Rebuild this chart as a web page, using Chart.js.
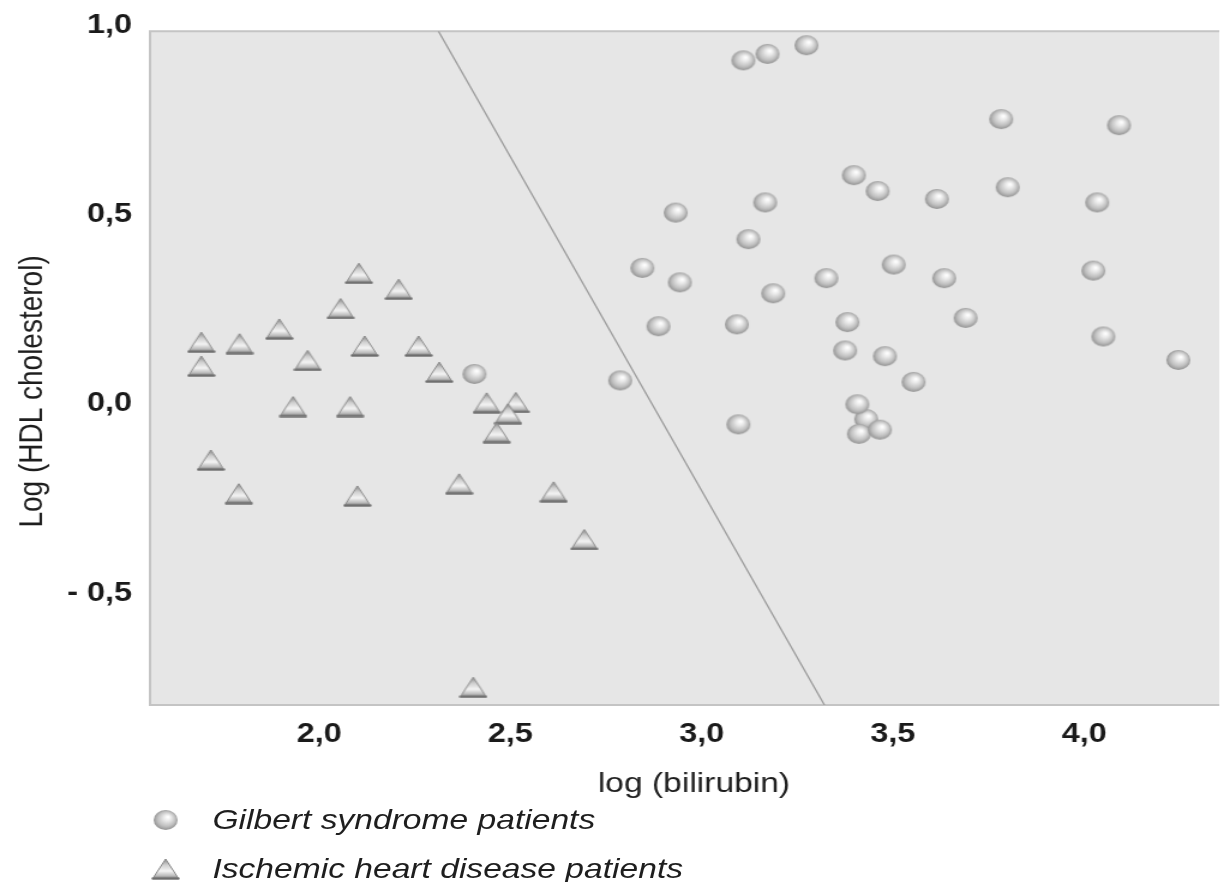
<!DOCTYPE html>
<html>
<head>
<meta charset="utf-8">
<script src="https://cdn.jsdelivr.net/npm/chart.js@4.4.0/dist/chart.umd.min.js"></script>
<style>
  html, body { margin: 0; padding: 0; background: #fff; overflow: hidden; }
  /* the original figure is stretched sideways, so the whole chart is too */
  #wrap { position: relative; width: 1021px; height: 882px; transform: scaleX(1.2); transform-origin: 0 0; }
  #legend { position: absolute; left: 0; top: 0; width: 100%; height: 100%; pointer-events: none;
            font: italic 28px "Liberation Sans", Arial, sans-serif; color: #1e1e1e; }
  .lg-mark { position: absolute; }
  .lg-text { position: absolute; left: 177px; height: 40px; line-height: 40px; white-space: nowrap; }
</style>
</head>
<body>
<div id="wrap">
  <canvas id="chart_scatter"></canvas>
  <div id="legend"></div>
</div>
<script>
// Gilbert syndrome patients
const gilbertX = [3.109, 3.172, 3.274, 3.398, 3.460, 3.166, 2.932, 3.122, 2.845, 2.943, 3.326, 3.187,
                  3.502, 3.783, 4.091, 3.615, 3.800, 4.034, 3.634, 4.024, 3.381, 3.690, 3.375, 3.479,
                  4.050, 4.246, 3.554, 3.430, 3.407, 3.411, 3.466, 2.887, 3.092, 2.787, 3.096, 2.406];
const gilbertY = [0.907, 0.924, 0.947, 0.604, 0.562, 0.532, 0.505, 0.435, 0.359, 0.321, 0.332, 0.292,
                  0.368, 0.752, 0.736, 0.541, 0.572, 0.532, 0.332, 0.352, 0.216, 0.227, 0.141, 0.126,
                  0.178, 0.116, 0.058, -0.040, -0.001, -0.079, -0.068, 0.205, 0.210, 0.062, -0.054, 0.079];

// Ischemic heart disease patients
const ischemicX = [1.692, 1.692, 1.792, 1.896, 1.970, 2.056, 2.104, 2.208, 2.119, 2.260, 2.314, 1.932,
                   2.081, 2.438, 2.514, 2.494, 2.464, 1.717, 1.790, 2.100, 2.366, 2.613, 2.693, 2.403];
const ischemicY = [0.163, 0.100, 0.159, 0.198, 0.115, 0.252, 0.345, 0.303, 0.153, 0.153, 0.084, -0.007,
                   -0.007, 0.003, 0.004, -0.026, -0.076, -0.148, -0.237, -0.243, -0.211, -0.232, -0.358, -0.748];

// separating line
const lineX = [2.312, 3.321];
const lineY = [0.984, -0.795];

const xTicks = [2.0, 2.5, 3.0, 3.5, 4.0];
const yTicks = [-0.5, 0.0, 0.5, 1.0];

function pairs(xs, ys) {
  return xs.map(function (x, i) { return { x: x, y: ys[i] }; });
}

function fmtTick(v) {
  const s = Math.abs(v).toFixed(1).replace('.', ',');
  return v < 0 ? '- ' + s : s;
}

// shaded ball marker
function makeSphere() {
  const c = document.createElement('canvas');
  c.width = 22; c.height = 22;
  const g = c.getContext('2d');
  const grad = g.createRadialGradient(13, 8, 0.5, 11, 11, 11);
  grad.addColorStop(0, '#ffffff');
  grad.addColorStop(0.25, '#eaeaea');
  grad.addColorStop(0.65, '#c0c0c0');
  grad.addColorStop(1, '#878787');
  g.fillStyle = grad;
  g.beginPath();
  g.arc(11, 11, 10, 0, Math.PI * 2);
  g.fill();
  return c;
}

// shaded triangle marker
function makeTriangle() {
  const c = document.createElement('canvas');
  c.width = 24; c.height = 22;
  const g = c.getContext('2d');
  const grad = g.createLinearGradient(0, 1, 0, 21);
  grad.addColorStop(0, '#8a8a8a');
  grad.addColorStop(0.3, '#cfcfcf');
  grad.addColorStop(0.6, '#f4f4f4');
  grad.addColorStop(0.82, '#c0c0c0');
  grad.addColorStop(1, '#747474');
  g.fillStyle = grad;
  g.beginPath();
  g.moveTo(12, 1);
  g.lineTo(23, 21);
  g.lineTo(1, 21);
  g.closePath();
  g.fill();
  g.strokeStyle = '#868686';
  g.lineWidth = 1;
  g.stroke();
  g.fillStyle = '#6e6e6e';
  g.fillRect(0.5, 19.5, 23, 2);
  return c;
}

const sphere = makeSphere();
const triangle = makeTriangle();

const plotFrame = {
  id: 'plotFrame',
  beforeDraw: function (chart) {
    const a = chart.chartArea;
    const ctx = chart.ctx;
    ctx.save();
    ctx.fillStyle = '#e6e6e6';
    ctx.fillRect(a.left, a.top, a.right - a.left, a.bottom - a.top);
    ctx.strokeStyle = '#c4c4c4';
    ctx.lineWidth = 2;
    ctx.beginPath();
    ctx.moveTo(a.right, a.top);
    ctx.lineTo(a.left, a.top);
    ctx.lineTo(a.left, a.bottom);
    ctx.lineTo(a.right, a.bottom);
    ctx.stroke();
    ctx.restore();
  }
};

const tickFont = { family: '"Liberation Sans", Arial, sans-serif', size: 27, weight: 'bold' };
const titleFont = { family: '"Liberation Sans", Arial, sans-serif', size: 28 };

const data = {
  datasets: [
    {
      type: 'scatter',
      label: 'Gilbert syndrome patients',
      data: pairs(gilbertX, gilbertY),
      pointStyle: sphere,
      order: 1
    },
    {
      type: 'scatter',
      label: 'Ischemic heart disease patients',
      data: pairs(ischemicX, ischemicY),
      pointStyle: triangle,
      order: 1
    },
    {
      type: 'line',
      label: 'line',
      data: pairs(lineX, lineY),
      borderColor: '#9c9c9c',
      borderWidth: 1.3,
      pointRadius: 0,
      fill: false,
      order: 5
    }
  ]
};

const config = {
  type: 'scatter',
  data,
  options: {
    responsive: true,
    maintainAspectRatio: false,
    devicePixelRatio: 1,
    animation: false,
    layout: { padding: { top: 29, right: 0, bottom: 80, left: 0 } },
    plugins: {
      legend: { display: false },
      tooltip: { enabled: false }
    },
    scales: {
      x: {
        type: 'linear',
        min: 1.558,
        max: 4.353,
        grid: { display: false, drawTicks: false },
        border: { display: false },
        afterBuildTicks: function (scale) {
          scale.ticks = xTicks.map(function (v) { return { value: v }; });
        },
        afterFit: function (scale) { scale.height = 97; },
        ticks: {
          autoSkip: false,
          maxRotation: 0,
          padding: 13,
          color: '#1a1a1a',
          font: tickFont,
          callback: fmtTick
        },
        title: {
          display: true,
          text: '  log (bilirubin)',
          color: '#1e1e1e',
          font: titleFont,
          padding: { top: 0, bottom: 1 }
        }
      },
      y: {
        type: 'linear',
        min: -0.795,
        max: 0.984,
        grid: { display: false, drawTicks: false },
        border: { display: false },
        afterBuildTicks: function (scale) {
          scale.ticks = yTicks.map(function (v) { return { value: v }; });
        },
        afterFit: function (scale) { scale.width = 125; },
        ticks: {
          autoSkip: false,
          padding: 15,
          color: '#1a1a1a',
          font: tickFont,
          callback: fmtTick
        },
        title: {
          display: true,
          text: 'Log (HDL cholesterol)      ',
          color: '#1e1e1e',
          font: titleFont,
          padding: { top: 10, bottom: 0 }
        }
      }
    }
  },
  plugins: [plotFrame]
};

var myChart = new Chart(document.getElementById('chart_scatter'), config);

// legend below the plot, one row per patient group
const legendRows = [820, 869];
const legendBox = document.getElementById('legend');
myChart.data.datasets.filter(function (ds) { return ds.type === 'scatter'; }).forEach(function (ds, i) {
  const mark = document.createElement('canvas');
  mark.width = ds.pointStyle.width;
  mark.height = ds.pointStyle.height;
  mark.getContext('2d').drawImage(ds.pointStyle, 0, 0);
  mark.className = 'lg-mark';
  mark.style.left = (138 - mark.width / 2) + 'px';
  mark.style.top = (legendRows[i] - mark.height / 2) + 'px';
  legendBox.appendChild(mark);

  const txt = document.createElement('span');
  txt.className = 'lg-text';
  txt.style.top = (legendRows[i] - 20) + 'px';
  txt.textContent = ds.label;
  legendBox.appendChild(txt);
});
</script>
</body>
</html>
